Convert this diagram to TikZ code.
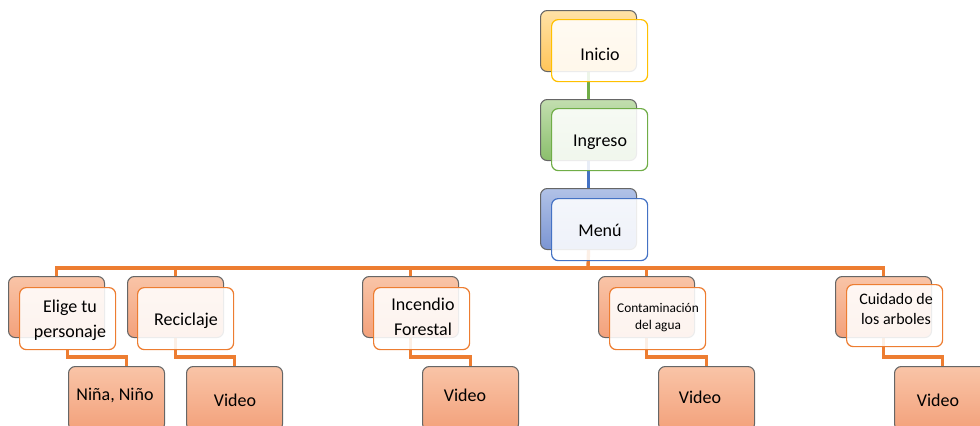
\documentclass[tikz,border=0pt]{standalone}
\usepackage{fontspec}
\setmainfont{Carlito}
\usetikzlibrary{positioning}
\pgfdeclarelayer{bg}
\pgfsetlayers{bg,main}

\definecolor{goldTop}{HTML}{FFE2A6}
\definecolor{goldBot}{HTML}{FFC559}
\definecolor{goldLine}{HTML}{FFC000}
\definecolor{greenTop}{HTML}{C2DEAF}
\definecolor{greenBot}{HTML}{8BBF6C}
\definecolor{greenLine}{HTML}{70AD47}
\definecolor{blueTop}{HTML}{B1C2E7}
\definecolor{blueBot}{HTML}{7B95D3}
\definecolor{blueLine}{HTML}{4472C4}
\definecolor{orgTop}{HTML}{F9C4A7}
\definecolor{orgBot}{HTML}{F3A17B}
\definecolor{orgLine}{HTML}{ED7D31}

\tikzset{
  backbox/.style={draw=black!60, line width=0.8pt, rounded corners=5pt, anchor=north west,
    minimum width=72pt, minimum height=45.75pt, inner sep=0pt},
  frontbox/.style={draw=#1, line width=0.9pt, rounded corners=5pt, anchor=north west,
    fill=white, fill opacity=0.88, minimum width=72pt, minimum height=46.5pt, inner sep=0pt},
  videobox/.style={backbox, top color=orgTop, bottom color=orgBot, minimum height=48pt},
  lbl/.style={font=\fontsize{13.5}{18.75}\selectfont, align=center, inner sep=0pt},
  conn/.style={draw=#1, line width=2.5pt}
}

\begin{document}
\begin{tikzpicture}[x=0.75pt,y=0.75pt,yscale=-1,xscale=1]
\clip (0,0) rectangle (980,425);

% top column
\node[backbox, top color=goldTop, bottom color=goldBot] (inicioB) at (540,10) {};
\node[frontbox=goldLine] (inicioF) at (551,19) {};
\node[lbl] (inicioT) at (600,54) {Inicio};

\node[backbox, top color=greenTop, bottom color=greenBot] (ingresoB) at (540,99) {};
\node[frontbox=greenLine] (ingresoF) at (551,108) {};
\node[lbl] (ingresoT) at (600,142) {Ingreso};

\node[backbox, top color=blueTop, bottom color=blueBot] (menuB) at (540,188) {};
\node[frontbox=blueLine] (menuF) at (551,198) {};
\node[lbl] (menuT) at (600,230) {Menú};

% first row
\node[backbox, top color=orgTop, bottom color=orgBot] (eligeB) at (8,276) {};
\node[frontbox=orgLine] (eligeF) at (19,287) {};
\node[lbl] (eligeT) at (70,320) {Elige tu\\personaje};

\node[backbox, top color=orgTop, bottom color=orgBot] (recicB) at (127,276) {};
\node[frontbox=orgLine] (recicF) at (137,287) {};
\node[lbl] (recicT) at (186,321) {Reciclaje};

\node[backbox, top color=orgTop, bottom color=orgBot] (incenB) at (362,276) {};
\node[frontbox=orgLine] (incenF) at (373,287) {};
\node[lbl] (incenT) at (423,317) {Incendio\\Forestal};

\node[backbox, top color=orgTop, bottom color=orgBot] (contaB) at (598,276) {};
\node[frontbox=orgLine] (contaF) at (609,287) {};
\node[lbl, font=\fontsize{10}{12.75}\selectfont] (contaT) at (658,318) {Contaminación\\del agua};

\node[backbox, top color=orgTop, bottom color=orgBot] (cuidaB) at (835,276) {};
\node[frontbox=orgLine] (cuidaF) at (846,284) {};
\node[lbl, font=\fontsize{12}{15}\selectfont] (cuidaT) at (896,309) {Cuidado de\\los arboles};

% second row
\node[videobox] (ninoV) at (68,366) {};
\node[lbl] (ninoT) at (115,395) {Niña, Niño};
\node[videobox] (recicV) at (186,366) {};
\node[lbl] (recicVT) at (235,400) {Video};
\node[videobox] (incenV) at (422,366) {};
\node[lbl] (incenVT) at (465,395) {Video};
\node[videobox] (contaV) at (658,366) {};
\node[lbl] (contaVT) at (700,397) {Video};
\node[videobox] (cuidaV) at (894,366) {};
\node[lbl] (cuidaVT) at (938,400) {Video};

% connectors
\begin{pgfonlayer}{bg}
\coordinate (bus) at (588,268);
\draw[conn=greenLine] (inicioB.south) -- (ingresoB.north);
\draw[conn=blueLine] (ingresoB.south) -- (menuB.north);
\draw[conn=orgLine] (menuB.south) -- (bus);
\foreach \c in {eligeB,recicB,incenB,contaB,cuidaB}
  \draw[conn=orgLine] (bus) -| (\c.north);

\draw[conn=orgLine] (eligeF.south) |- ([xshift=7.5pt,yshift=-6.75pt]ninoV.north) -- ([xshift=7.5pt]ninoV.north);
\foreach \a/\b in {recicB/recicV,incenB/incenV,contaB/contaV,cuidaB/cuidaV}
  \draw[conn=orgLine] (\a.south) |- ([yshift=-6.75pt]\b.north) -- (\b.north);
\end{pgfonlayer}
\end{tikzpicture}
\end{document}
